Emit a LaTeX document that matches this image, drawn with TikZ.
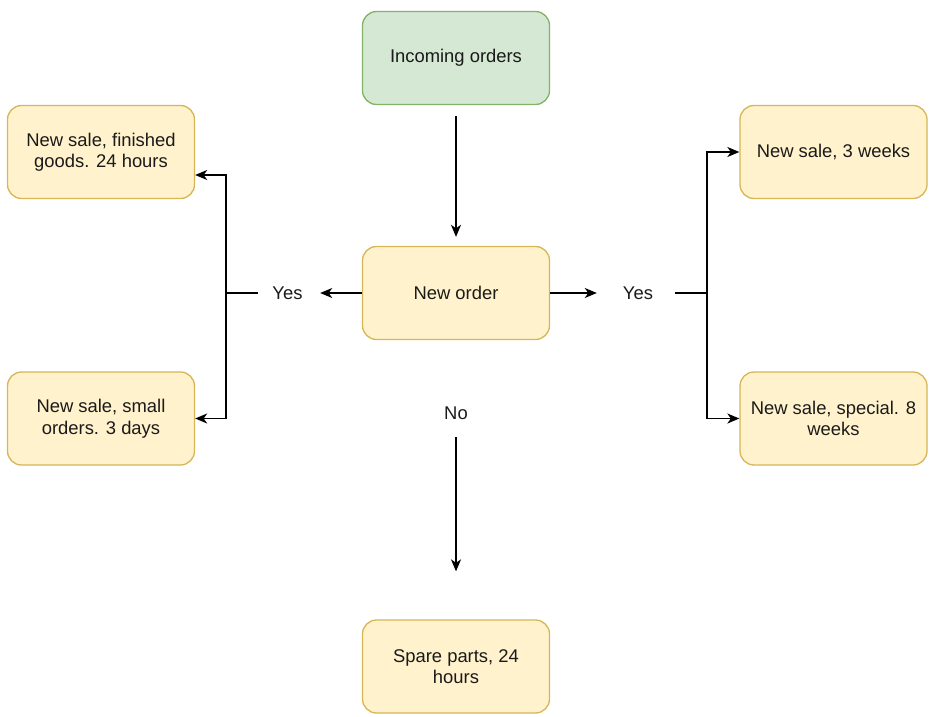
\documentclass[tikz,border=0pt]{standalone}
\usepackage{fontspec}
\setmainfont{Liberation Sans}
\usetikzlibrary{arrows.meta}
\definecolor{yfill}{HTML}{FFF2CC}
\definecolor{ydraw}{HTML}{D6B656}
\definecolor{gfill}{HTML}{D5E8D4}
\definecolor{gdraw}{HTML}{82B366}
\definecolor{ink}{HTML}{1A1A1A}
\begin{document}
\begin{tikzpicture}[x=1pt,y=-1pt,
  every node/.style={font=\fontsize{18.4}{21.5}\selectfont, text=ink, align=center},
  box/.style={rounded corners=14pt, line width=1.3pt, minimum width=187pt, minimum height=93pt, inner sep=0pt},
  yellowbox/.style={box, draw=ydraw, fill=yfill},
  greenbox/.style={box, draw=gdraw, fill=gfill},
  lbl/.style={inner sep=0pt, minimum width=38pt, minimum height=20pt},
  link/.style={draw=black, line width=1.6pt},
  arrow/.style={link, -{Stealth[length=12pt, width=10pt, inset=3.5pt]}}
]
\useasboundingbox (0,0) rectangle (929,717);

% boxes
\node[greenbox]  (inc)   at (456,58)    {Incoming orders};
\node[yellowbox] (new)   at (456,293)   {New order};
\node[yellowbox] (fg)    at (101,152)   {New sale, finished\\goods. 24 hours};
\node[yellowbox] (so)    at (101,418.5) {New sale, small\\orders. 3 days};
\node[yellowbox] (w3)    at (833.5,152) {New sale, 3 weeks};
\node[yellowbox] (sp)    at (833.5,418.5) {New sale, special. 8\\weeks};
\node[yellowbox] (spare) at (456,666.5) {Spare parts, 24\\hours};

% branch labels
\node[lbl] (yesL) at (287.5,293) {Yes};
\node[lbl] (yesR) at (638,293)   {Yes};
\node[lbl] (no)   at (456,413)   {No};

% junctions of the branch lines
\coordinate (jl) at (226,293);
\coordinate (jr) at (707,293);

% connectors
\draw[arrow, shorten <=11pt, shorten >=9pt] (inc) -- (new);
\draw[arrow, shorten >=13.5pt] (new) -- (yesL);
\draw[arrow, shorten >=22pt] (new) -- (yesR);
\draw[link, shorten <=10.5pt] (yesL.west) -- (jl);
\draw[link, shorten <=18pt] (yesR.east) -- (jr);
\draw[arrow] (jl) |- ([yshift=-23pt]fg.east);
\draw[arrow] (jl) |- (so.east);
\draw[arrow] (jr) |- (w3.west);
\draw[arrow] (jr) |- (sp.west);
\draw[arrow, shorten <=14pt, shorten >=48pt] (no.south) -- (spare.north);
\end{tikzpicture}
\end{document}
